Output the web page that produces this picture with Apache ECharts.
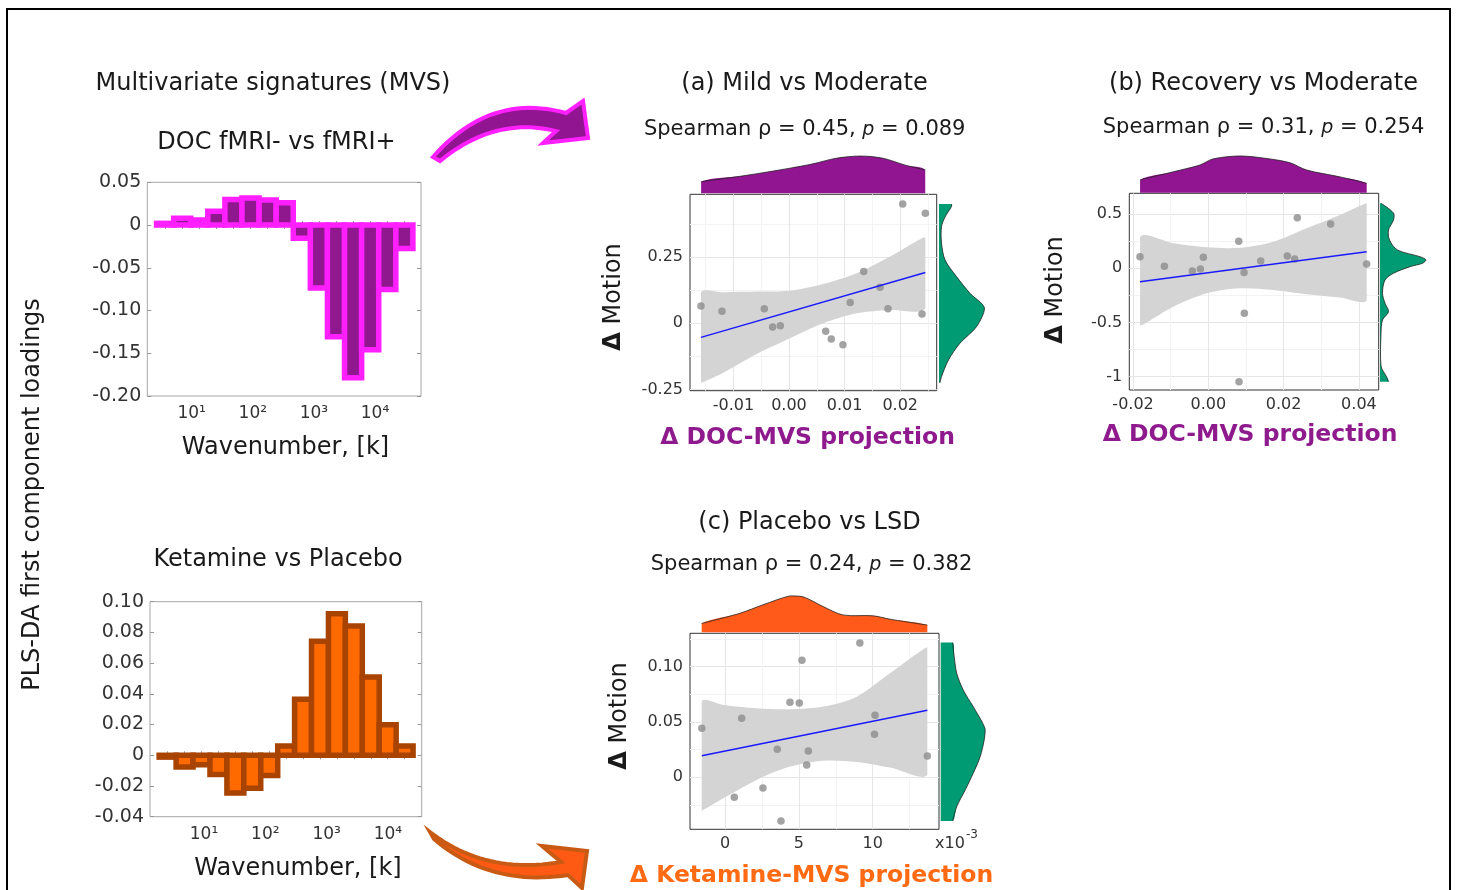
<!DOCTYPE html>
<html><head><meta charset="utf-8">
<script src="https://cdn.jsdelivr.net/npm/echarts@6/dist/echarts.min.js"></script>
<style>html,body{margin:0;padding:0;background:#fff}#c{width:1459px;height:890px}</style>
</head><body><div id="c"></div>
<script>
// ---------------- DATA ----------------
// PLS-DA loadings (bar charts), wavenumber bin centres
const docWavenumbers = [3.67, 6.99, 13.3, 25.3, 48.2, 91.8, 175, 333, 634, 1207, 2299, 4378, 8337, 15876, 30232];
const docLoadings = [0.002, 0.0078, 0.0059, 0.016, 0.030, 0.0316, 0.0293, 0.0261, -0.0156, -0.0737, -0.1307, -0.1786, -0.1459, -0.0753, -0.0273];
const ketWavenumbers = [2.55, 4.82, 9.10, 17.2, 32.5, 61.3, 116, 219, 413, 780, 1473, 2782, 5253, 9919, 18730];
const ketLoadings = [-0.0012, -0.0076, -0.0061, -0.0126, -0.0246, -0.0214, -0.0131, 0.0061, 0.0364, 0.0743, 0.0922, 0.0841, 0.0510, 0.0198, 0.0061];
const decadeTicks = [1, 2, 3, 4];
const decadeLabels = {1: '10\u00B9', 2: '10\u00B2', 3: '10\u00B3', 4: '10\u2074'};

// (a) Mild vs Moderate
const aX = [-0.01583, -0.01205, -0.00444, -0.00294, -0.00156, 0.0066, 0.0076, 0.0097, 0.0110, 0.01343, 0.01637, 0.0178, 0.02045, 0.02452, 0.02392];
const aY = [0.065, 0.045, 0.055, -0.014, -0.009, -0.030, -0.059, -0.081, 0.078, 0.195, 0.136, 0.055, 0.449, 0.415, 0.035];
const aFitX = [-0.01583, 0.02452];
const aFitY = [-0.053, 0.191];
const aBandX = [-0.01583, -0.01181, -0.00581, 0.00018, 0.00617, 0.01217, 0.01817, 0.02452];
const aBandLo = [-0.2238, -0.1862, -0.1157, -0.0566, 0.0, 0.0377, 0.0502, 0.0565];
const aBandHi = [0.1155, 0.1167, 0.1193, 0.1230, 0.1481, 0.1884, 0.2512, 0.3241];
const aDensTopX = [-0.0158, -0.0079, 0.0002, 0.0043, 0.0085, 0.0128, 0.0169, 0.0209, 0.0245];
const aDensTopV = [0.27, 0.41, 0.58, 0.68, 0.81, 0.86, 0.81, 0.65, 0.54];
const aDensRightY = [0.449, 0.44, 0.40, 0.364, 0.303, 0.239, 0.176, 0.113, 0.057, -0.013, -0.075, -0.138, -0.201, -0.224];
const aDensRightV = [0.25, 0.25, 0.12, 0.05, 0.05, 0.12, 0.35, 0.62, 0.91, 0.75, 0.42, 0.19, 0.05, 0.02];
const aXTicks = [-0.01, 0.0, 0.01, 0.02];
const aXMinor = [-0.015, -0.005, 0.005, 0.015, 0.025];
const aYTicks = [-0.25, 0, 0.25];
const aYMinor = [-0.125, 0.125, 0.375];

// (b) Recovery vs Moderate
const bX = [-0.01816, -0.01168, -0.00425, -0.00212, -0.00133, 0.00807, 0.00948, 0.00956, 0.00815, 0.01391, 0.02097, 0.02293, 0.02363, 0.03249, 0.04205];
const bY = [0.107, 0.018, -0.025, -0.006, 0.102, 0.249, -0.040, -0.416, -1.048, 0.067, 0.114, 0.086, 0.468, 0.409, 0.040];
const bFitX = [-0.01816, 0.04205];
const bFitY = [-0.124, 0.153];
const bBandX = [-0.01814, -0.00929, -0.00042, 0.00842, 0.01726, 0.02613, 0.03497, 0.04206];
const bBandLo = [-0.530, -0.355, -0.231, -0.185, -0.200, -0.240, -0.271, -0.293];
const bBandHi = [0.2865, 0.231, 0.194, 0.190, 0.246, 0.370, 0.493, 0.601];
const bDensTopX = [-0.01814, -0.00929, -0.0022, 0.0012, 0.0084, 0.0164, 0.0217, 0.02613, 0.0350, 0.04206];
const bDensTopV = [0.30, 0.49, 0.65, 0.79, 0.86, 0.79, 0.70, 0.53, 0.37, 0.22];
const bDensRightY = [0.601, 0.511, 0.446, 0.354, 0.262, 0.169, 0.107, 0.077, 0.046, 0.015, -0.046, -0.108, -0.231, -0.323, -0.401, -0.478, -0.601, -0.903, -1.002, -1.048];
const bDensRightV = [0.02, 0.27, 0.27, 0.17, 0.19, 0.35, 0.80, 0.92, 0.85, 0.60, 0.27, 0.10, 0.05, 0.10, 0.17, 0.05, 0.02, 0.02, 0.13, 0.17];
const bXTicks = [-0.02, 0.0, 0.02, 0.04];
const bXMinor = [-0.01, 0.01, 0.03];
const bYTicks = [-1, -0.5, 0, 0.5];
const bYMinor = [-0.75, -0.25, 0.25];

// (c) Placebo vs LSD
const cX = [-0.00157, 0.00063, 0.00113, 0.00257, 0.00354, 0.00379, 0.00440, 0.00503, 0.00521, 0.00553, 0.00564, 0.00913, 0.01016, 0.01012, 0.01370];
const cY = [0.0443, -0.018, 0.0533, -0.0097, 0.0253, -0.0395, 0.0677, 0.0671, 0.1057, 0.0111, 0.0238, 0.1213, 0.056, 0.0388, 0.0192];
const cFitX = [-0.00157, 0.01370];
const cFitY = [0.0195, 0.0605];
const cBandX = [-0.001578, -0.000115, 0.002146, 0.004401, 0.006656, 0.008917, 0.011171, 0.01370];
const cBandLo = [-0.0302, -0.019, -0.0024, 0.0096, 0.015, 0.0138, 0.0087, 0.0027];
const cBandHi = [0.0683, 0.0653, 0.0623, 0.0614, 0.0638, 0.0728, 0.0939, 0.1174];
const cDensTopX = [-0.001578, 0.001016, 0.002573, 0.004401, 0.005281, 0.006635, 0.007989, 0.01002, 0.01117, 0.01370];
const cDensTopV = [0.21, 0.45, 0.65, 0.86, 0.84, 0.61, 0.41, 0.39, 0.31, 0.17];
const cDensRightY = [0.1216, 0.1089, 0.0939, 0.0789, 0.0638, 0.0488, 0.0427, 0.0337, 0.0186, 0.0036, -0.0115, -0.0266, -0.0395];
const cDensRightV = [0.24, 0.27, 0.32, 0.45, 0.65, 0.84, 0.89, 0.87, 0.79, 0.65, 0.49, 0.32, 0.24];
const cXTicks = [0, 0.005, 0.01];
const cXMinor = [0.0025, 0.0075, 0.0125];
const cYTicks = [0, 0.05, 0.10];
const cYMinor = [-0.025, 0.025, 0.075, 0.125];

// ---------------- CHART ----------------
const FONT = "'DejaVu Sans', Verdana, sans-serif";
const chart = echarts.init(document.getElementById('c'), null, {renderer: 'canvas', width: 1459, height: 890});
const grid = [], xAxis = [], yAxis = [], series = [];
function addGrid(l, t, w, h, o) { grid.push(Object.assign({left: l, top: t, width: w, height: h}, o || {})); return grid.length - 1; }
function addX(o) { xAxis.push(o); return xAxis.length - 1; }
function addY(o) { yAxis.push(o); return yAxis.length - 1; }
const hidden = (g, min, max) => ({type: 'value', gridIndex: g, min: min, max: max, show: false});
const zip = (a, b) => a.map((v, i) => [v, b[i]]);
function bbox(pts) {
  const xs = pts.map(p => p[0]), ys = pts.map(p => p[1]);
  return [[Math.min.apply(null, xs), Math.min.apply(null, ys)], [Math.max.apply(null, xs), Math.max.apply(null, ys)]];
}

function areaSeries(xi, yi, pts, closed, fill, outline) {
  return {
    type: 'custom', xAxisIndex: xi, yAxisIndex: yi, silent: true, clip: false, z: 2,
    data: pts,
    renderItem: function (params, api) {
      if (params.dataIndex !== 0) return null;
      const cp = closed.map(p => api.coord(p));
      const lp = pts.map(p => api.coord(p));
      const children = [{type: 'polygon', shape: {points: cp, smooth: 0.3, smoothConstraint: bbox(cp)}, style: {fill: fill}}];
      if (outline) children.push({type: 'polyline', shape: {points: lp, smooth: 0.3, smoothConstraint: bbox(cp)}, style: {stroke: outline, lineWidth: 0.8, fill: null}});
      return {type: 'group', children: children};
    }
  };
}

// ---- bar charts (MATLAB-style: edge stroke centred on the bar outline) ----
function barChart(rect, ks, vals, ymin, ymax, yint, fill, stroke) {
  const g = addGrid(rect[0], rect[1], rect[2], rect[3], {show: true, borderColor: '#a6a6a6', borderWidth: 1, backgroundColor: '#fff'});
  const xmin = rect[4], xmax = rect[5];
  const logs = ks.map(k => Math.log10(k));
  const step = (logs[logs.length - 1] - logs[0]) / (logs.length - 1);
  const tick = {show: true, inside: true, length: 4, customValues: logs, lineStyle: {color: '#999', width: 1}};
  const xb = addX({type: 'value', gridIndex: g, min: xmin, max: xmax, position: 'bottom',
    axisLine: {show: false}, axisTick: tick, splitLine: {show: false},
    axisLabel: {customValues: decadeTicks, formatter: v => decadeLabels[Math.round(v)] || '', fontSize: 17, color: '#333', margin: 9, fontFamily: FONT}});
  addX({type: 'value', gridIndex: g, min: xmin, max: xmax, position: 'top', axisLine: {show: false}, axisTick: tick, splitLine: {show: false}, axisLabel: {show: false}});
  const yfmt = v => Math.abs(v) < 1e-9 ? '0' : v.toFixed(2);
  const ytick = {show: true, inside: true, length: 4, lineStyle: {color: '#999', width: 1}};
  const yl = addY({type: 'value', gridIndex: g, min: ymin, max: ymax, interval: yint, position: 'left',
    axisLine: {show: false}, axisTick: ytick, splitLine: {show: false},
    axisLabel: {formatter: yfmt, fontSize: 19, color: '#333', margin: 6, fontFamily: FONT}});
  addY({type: 'value', gridIndex: g, min: ymin, max: ymax, interval: yint, position: 'right', axisLine: {show: false}, axisTick: ytick, splitLine: {show: false}, axisLabel: {show: false}});
  series.push({type: 'custom', xAxisIndex: xb, yAxisIndex: yl, data: zip(logs, vals), silent: true, z: 2,
    renderItem: function (params, api) {
      const x = api.value(0), v = api.value(1);
      const p0 = api.coord([x, 0]), p1 = api.coord([x, v]);
      const w = api.size([step, 0])[0];
      return {type: 'rect', shape: {x: p0[0] - w / 2, y: Math.min(p0[1], p1[1]), width: w, height: Math.abs(p1[1] - p0[1])},
        style: {fill: fill, stroke: stroke, lineWidth: 5.5, lineJoin: 'miter'}};
    }});
}
barChart([147.3, 182.3, 273.7, 213.7, 0.2733, 4.7529], docWavenumbers, docLoadings, -0.2, 0.05, 0.05, '#8f188f', '#ff1fff');
barChart([150, 601.7, 271.7, 215, 0.1191, 4.5514], ketWavenumbers, ketLoadings, -0.04, 0.10, 0.02, '#ff6a00', '#a84300');

// ---- scatter panels ----
function scatterPanel(p) {
  const g = addGrid(p.rect[0], p.rect[1], p.rect[2], p.rect[3], {show: true, borderColor: '#333', borderWidth: 1, backgroundColor: '#fff'});
  const xa = addX({type: 'value', gridIndex: g, min: p.xr[0], max: p.xr[1], position: 'bottom',
    axisLine: {show: false}, axisTick: {show: false, customValues: p.xt},
    splitLine: {show: true, customValues: p.xt, lineStyle: {color: '#e6e6e6', width: 1}},
    axisLabel: {customValues: p.xt, formatter: p.xf, fontSize: 16, color: '#333', margin: 7, fontFamily: FONT}});
  addX({type: 'value', gridIndex: g, min: p.xr[0], max: p.xr[1], position: 'top',
    axisLine: {show: false}, axisTick: {show: false, customValues: p.xm}, axisLabel: {show: false},
    splitLine: {show: true, customValues: p.xm, lineStyle: {color: '#f3f3f3', width: 1}}});
  const ya = addY({type: 'value', gridIndex: g, min: p.yr[0], max: p.yr[1], position: 'left',
    axisLine: {show: false}, axisTick: {show: false, customValues: p.yt},
    splitLine: {show: true, customValues: p.yt, lineStyle: {color: '#e6e6e6', width: 1}},
    axisLabel: {customValues: p.yt, formatter: p.yf, fontSize: 16, color: '#333', margin: 7, fontFamily: FONT}});
  addY({type: 'value', gridIndex: g, min: p.yr[0], max: p.yr[1], position: 'right',
    axisLine: {show: false}, axisTick: {show: false, customValues: p.ym}, axisLabel: {show: false},
    splitLine: {show: true, customValues: p.ym, lineStyle: {color: '#f3f3f3', width: 1}}});
  const bandPts = zip(p.bx, p.bhi).concat(zip(p.bx, p.blo).reverse());
  series.push(areaSeries(xa, ya, bandPts, bandPts, '#d4d4d4', null));
  series.push({type: 'scatter', xAxisIndex: xa, yAxisIndex: ya, data: zip(p.x, p.y), symbolSize: 7.5,
    itemStyle: {color: '#8c8c8c'}, silent: true, z: 3});
  series.push({type: 'line', xAxisIndex: xa, yAxisIndex: ya, data: zip(p.fx, p.fy), symbol: 'none',
    lineStyle: {color: '#1a1aff', width: 1.5}, silent: true, z: 4});
  const gt = addGrid(p.rect[0], p.top[0], p.rect[2], p.top[1] - p.top[0]);
  const tx = addX(hidden(gt, p.xr[0], p.xr[1])), ty = addY(hidden(gt, 0, 1));
  const tp = zip(p.dtx, p.dtv);
  const tclosed = [[tp[0][0], 0]].concat(tp, [[tp[tp.length - 1][0], 0]]);
  series.push(areaSeries(tx, ty, tp, tclosed, p.topColor, '#222'));
  const gr = addGrid(p.right, p.rect[1], 50, p.rect[3]);
  const rx = addX(hidden(gr, 0, 1)), ry = addY(hidden(gr, p.yr[0], p.yr[1]));
  const rp = zip(p.drv, p.dry);
  const rclosed = [[0, rp[0][1]]].concat(rp, [[0, rp[rp.length - 1][1]]]);
  series.push(areaSeries(rx, ry, rp, rclosed, '#009b72', '#222'));
}
const f2 = v => v.toFixed(2);
const plain = v => Math.abs(v) < 1e-9 ? '0' : String(v);
scatterPanel({rect: [690, 194.3, 246.7, 196.4], xr: [-0.0178, 0.02656], yr: [-0.254, 0.486],
  xt: aXTicks, xm: aXMinor, yt: aYTicks, ym: aYMinor, xf: f2, yf: plain,
  x: aX, y: aY, fx: aFitX, fy: aFitY, bx: aBandX, blo: aBandLo, bhi: aBandHi,
  top: [150, 193.3], dtx: aDensTopX, dtv: aDensTopV, topColor: '#911591',
  right: 939, dry: aDensRightY, drv: aDensRightV});
scatterPanel({rect: [1129.3, 193.3, 249.4, 196.7], xr: [-0.0210, 0.04525], yr: [-1.125, 0.693],
  xt: bXTicks, xm: bXMinor, yt: bYTicks, ym: bYMinor, xf: f2, yf: plain,
  x: bX, y: bY, fx: bFitX, fy: bFitY, bx: bBandX, blo: bBandLo, bhi: bBandHi,
  top: [150, 192.7], dtx: bDensTopX, dtv: bDensTopV, topColor: '#911591',
  right: 1380, dry: bDensRightY, drv: bDensRightV});
scatterPanel({rect: [690, 633.3, 249, 196], xr: [-0.00237, 0.01449], yr: [-0.047, 0.130],
  xt: cXTicks, xm: cXMinor, yt: cYTicks, ym: cYMinor, xf: v => String(Math.round(v * 1000)),
  yf: v => Math.abs(v) < 1e-9 ? '0' : v.toFixed(2),
  x: cX, y: cY, fx: cFitX, fy: cFitY, bx: cBandX, blo: cBandLo, bhi: cBandHi,
  top: [590, 632.3], dtx: cDensTopX, dtv: cDensTopV, topColor: '#ff5a1a',
  right: 940.7, dry: cDensRightY, drv: cDensRightV});

// ---------------- TEXT & DECORATION ----------------
function txt(x, y, text, size, extra, top) {
  const st = Object.assign({text: text, fontSize: size, fontFamily: FONT, fill: '#1a1a1a', align: 'center', verticalAlign: 'middle'}, extra || {});
  return Object.assign({type: 'text', x: x, y: y, z: 10, style: st}, top || {});
}
function spearman(x, y, rho, pv) {
  return txt(x, y, '{n|Spearman }{g|\u03C1}{n| = ' + rho + ', }{p|p}{n| = ' + pv + '}', 21, {
    rich: {n: {fontSize: 21, fontFamily: FONT, fill: '#1a1a1a'}, g: {fontSize: 21, fontFamily: FONT, fill: '#1a1a1a'},
           p: {fontSize: 19, fontFamily: FONT, fontStyle: 'italic', fill: '#1a1a1a'}}});
}
function motion(x, y) {
  return txt(x, y, '{d|\u0394} {m|Motion}', 24, {rich: {d: {fontSize: 24, fontWeight: 'bold', fontFamily: FONT, fill: '#1a1a1a'}, m: {fontSize: 24, fontFamily: FONT, fill: '#1a1a1a'}}}, {rotation: Math.PI / 2});
}
// curved arrow outlines: sampled quadratic curves (decoration only)
function quad(p0, c, p1, n) {
  const out = [];
  for (let i = 0; i <= n; i++) { const t = i / n, u = 1 - t;
    out.push([u * u * p0[0] + 2 * u * t * c[0] + t * t * p1[0], u * u * p0[1] + 2 * u * t * c[1] + t * t * p1[1]]); }
  return out;
}
const arrowTop = quad([433, 157], [490, 92], [566, 113], 24).concat([[583, 101], [588, 138], [543, 143]], quad([556, 131], [495, 116], [440, 161], 24));
const arrowBot = quad([430, 832], [485, 875], [561, 862], 24).concat([[542, 846], [587, 851], [582, 888]], quad([568, 875], [490, 887], [434, 839], 24));

const graphic = [
  {type: 'rect', shape: {x: 7, y: 9, width: 1443, height: 900}, style: {fill: 'none', stroke: '#000', lineWidth: 2}, z: 0},
  txt(273, 84, 'Multivariate signatures (MVS)', 24),
  txt(276.5, 143, 'DOC fMRI- vs fMRI+', 24),
  txt(278, 560, 'Ketamine vs Placebo', 24),
  txt(285.5, 448, 'Wavenumber, [k]', 24),
  txt(298, 869, 'Wavenumber, [k]', 24),
  txt(33, 494.5, 'PLS-DA first component loadings', 24, null, {rotation: Math.PI / 2}),
  txt(804.5, 84, '(a) Mild vs Moderate', 24),
  spearman(804.7, 130, '0.45', '0.089'),
  txt(1263.5, 84, '(b) Recovery vs Moderate', 24),
  spearman(1263.5, 128, '0.31', '0.254'),
  txt(809.5, 523, '(c) Placebo vs LSD', 24),
  spearman(811.5, 565, '0.24', '0.382'),
  txt(807.5, 438, '\u0394 DOC-MVS projection', 23.5, {fontWeight: 'bold', fill: '#8e1a8e'}),
  txt(1250, 435, '\u0394 DOC-MVS projection', 23.5, {fontWeight: 'bold', fill: '#8e1a8e'}),
  txt(811.5, 876, '\u0394 Ketamine-MVS projection', 23.5, {fontWeight: 'bold', fill: '#ff6a13'}),
  motion(614, 297), motion(1056, 290), motion(620, 716),
  txt(935, 844, 'x10', 16, {align: 'left', fill: '#333'}),
  txt(966, 835, '-3', 12, {align: 'left', fill: '#333'}),
  {type: 'polygon', z: 5, shape: {points: arrowTop}, style: {fill: '#911591', stroke: '#ff1fff', lineWidth: 4, lineJoin: 'miter'}},
  {type: 'polygon', z: 5, shape: {points: arrowBot}, style: {fill: '#ff5a14', stroke: '#c85a14', lineWidth: 4, lineJoin: 'miter'}}
];

chart.setOption({
  animation: false,
  backgroundColor: '#ffffff',
  grid: grid, xAxis: xAxis, yAxis: yAxis, series: series, graphic: graphic
});
</script>
</body></html>
